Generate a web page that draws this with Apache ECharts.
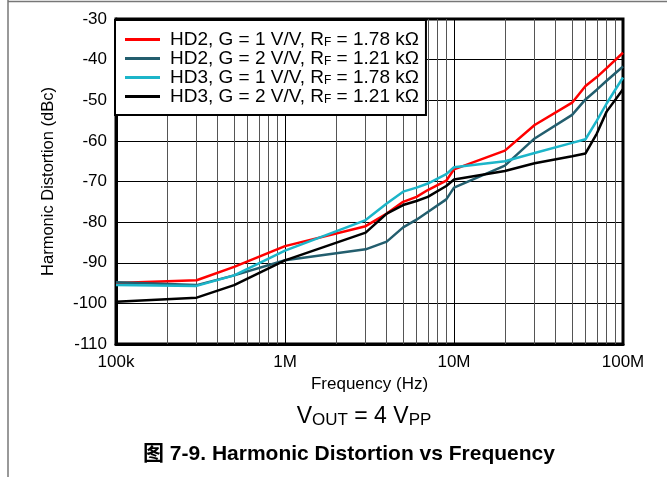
<!DOCTYPE html>
<html><head><meta charset="utf-8">
<script src="https://cdn.jsdelivr.net/npm/echarts@6/dist/echarts.min.js"></script>
<style>html,body{margin:0;padding:0;background:#fff}#c{width:667px;height:477px}</style>
</head><body><div id="c"></div>
<script>
const FONT = "'Liberation Sans', Arial, 'Noto Sans CJK SC', sans-serif";

const freqs = [1e5, 3e5, 5e5, 1e6, 3e6, 4e6, 5e6, 6e6, 7e6, 9e6, 1e7, 2e7, 3e7, 5e7, 6e7, 7e7, 8e7, 1e8];
const hd2G1 = [-95.0, -94.3, -91.0, -85.9, -81.0, -77.9, -75.0, -73.8, -72.1, -69.8, -67.0, -62.4, -56.1, -50.6, -46.5, -44.3, -42.1, -38.3];
const hd2G2 = [-94.8, -95.5, -93.1, -89.4, -86.7, -84.8, -81.3, -79.4, -77.5, -74.4, -71.5, -66.1, -59.4, -53.6, -49.8, -47.4, -45.2, -41.7];
const hd3G1 = [-95.5, -95.7, -93.1, -87.0, -79.5, -75.4, -72.5, -71.5, -70.5, -68.2, -66.5, -65.0, -63.0, -60.5, -59.6, -55.0, -50.8, -44.4];
const hd3G2 = [-99.6, -98.6, -95.5, -89.4, -82.6, -77.9, -75.8, -74.8, -73.8, -71.1, -69.5, -67.4, -65.5, -63.8, -63.1, -58.2, -52.8, -47.3];

const seriesNames = ['HD2, G = 1 V/V, RF = 1.78 kΩ', 'HD2, G = 2 V/V, RF = 1.21 kΩ', 'HD3, G = 1 V/V, RF = 1.78 kΩ', 'HD3, G = 2 V/V, RF = 1.21 kΩ'];
const legendParts = [
  ['HD2, G = 1 V/V, R', 'F', ' = 1.78 kΩ'],
  ['HD2, G = 2 V/V, R', 'F', ' = 1.21 kΩ'],
  ['HD3, G = 1 V/V, R', 'F', ' = 1.78 kΩ'],
  ['HD3, G = 2 V/V, R', 'F', ' = 1.21 kΩ']
];
const seriesValues = [hd2G1, hd2G2, hd3G1, hd3G2];
const seriesColors = ['#ff0000', '#235e6e', '#1cb5c9', '#000000'];

const xTickValues = [1e5, 1e6, 1e7, 1e8];
const xTickLabels = ['100k', '1M', '10M', '100M'];
const minorFreqs = [2e5, 3e5, 4e5, 5e5, 6e5, 7e5, 8e5, 9e5,
                    2e6, 3e6, 4e6, 5e6, 6e6, 7e6, 8e6, 9e6,
                    2e7, 3e7, 4e7, 5e7, 6e7, 7e7, 8e7, 9e7];

const chart = echarts.init(document.getElementById('c'), null, {renderer: 'canvas'});

const series = seriesValues.map((vals, i) => ({
  name: seriesNames[i],
  type: 'line',
  data: freqs.map((f, j) => [f, vals[j]]),
  symbol: 'none',
  showSymbol: false,
  lineStyle: {width: 2.5, color: seriesColors[i]},
  itemStyle: {color: seriesColors[i]},
  z: 3
}));
series.push({
  type: 'line',
  name: 'minor',
  data: [[1e5, -110]],
  symbol: 'none',
  lineStyle: {opacity: 0},
  silent: true,
  z: 1,
  markLine: {
    silent: true,
    z: 1,
    symbol: 'none',
    label: {show: false},
    lineStyle: {color: '#555', width: 1, type: 'solid'},
    data: minorFreqs.map(f => ({xAxis: f}))
  }
});

chart.setOption({
  animation: false,
  backgroundColor: '#fff',
  grid: {left: 116, right: 44, top: 19, bottom: 133, show: true, borderColor: '#000', borderWidth: 3, backgroundColor: 'transparent'},
  legend: {
    data: seriesNames,
    orient: 'vertical',
    left: 115, top: 20,
    z: 20,
    padding: [10, 7, 9, 10],
    itemGap: 0,
    itemWidth: 35,
    itemHeight: 3,
    icon: 'rect',
    backgroundColor: '#fff',
    borderColor: '#000',
    borderWidth: 2,
    borderRadius: 0,
    formatter: name => {
      const p = legendParts[seriesNames.indexOf(name)];
      return '{a|' + p[0] + '}{s|' + p[1] + '}{a|' + p[2] + '}';
    },
    textStyle: {
      color: '#000',
      fontFamily: FONT,
      padding: [0, 0, 0, 5],
      rich: {
        a: {fontSize: 19, fontFamily: FONT, color: '#000', lineHeight: 19},
        s: {fontSize: 12, fontFamily: FONT, color: '#000', lineHeight: 12, verticalAlign: 'bottom', padding: [7, 0, 0, 0]}
      }
    }
  },
  xAxis: {
    type: 'log', logBase: 10, min: 1e5, max: 1e8,
    name: 'Frequency (Hz)', nameLocation: 'middle', nameGap: 31,
    nameTextStyle: {fontSize: 17, fontFamily: FONT, color: '#000'},
    axisLine: {show: true, lineStyle: {color: '#000', width: 3}},
    axisTick: {show: false},
    splitLine: {show: true, lineStyle: {color: '#000', width: 1}},
    axisLabel: {
      fontSize: 17, fontFamily: FONT, color: '#000', margin: 10,
      formatter: v => { const k = xTickValues.findIndex(t => Math.abs(t - v) / t < 1e-6); return k >= 0 ? xTickLabels[k] : ''; }
    }
  },
  yAxis: {
    type: 'value', min: -110, max: -30, interval: 10,
    name: 'Harmonic Distortion (dBc)', nameLocation: 'middle', nameGap: 59, nameRotate: 90,
    nameTextStyle: {fontSize: 16.5, fontFamily: FONT, color: '#000'},
    axisLine: {show: true, lineStyle: {color: '#000', width: 3}},
    axisTick: {show: false},
    splitLine: {show: true, lineStyle: {color: '#000', width: 1}},
    axisLabel: {fontSize: 17, fontFamily: FONT, color: '#000', margin: 9}
  },
  graphic: [
    {type: 'line', shape: {x1: 8, y1: 0, x2: 8, y2: 477}, style: {stroke: '#777', lineWidth: 1.5}, silent: true},
    {type: 'line', shape: {x1: 8, y1: 1.5, x2: 667, y2: 1.5}, style: {stroke: '#777', lineWidth: 1.5}, silent: true},
    {type: 'text', x: 364, y: 417, silent: true, style: {
      text: '{a|V}{s|OUT}{a| = 4 V}{s|PP}',
      align: 'center', verticalAlign: 'middle',
      rich: {
        a: {fontSize: 23, fontFamily: FONT, fill: '#000', color: '#000', lineHeight: 24, verticalAlign: 'top'},
        s: {fontSize: 17, fontFamily: FONT, fill: '#000', color: '#000', lineHeight: 20, verticalAlign: 'bottom', padding: [7, 0, 0, 0]}
      }
    }},
    {type: 'text', x: 349, y: 454, silent: true, style: {
      text: '图 7-9. Harmonic Distortion vs Frequency',
      font: "bold 21px " + FONT, fill: '#000', align: 'center', verticalAlign: 'middle'
    }}
  ],
  series: series
});
</script>
</body></html>
